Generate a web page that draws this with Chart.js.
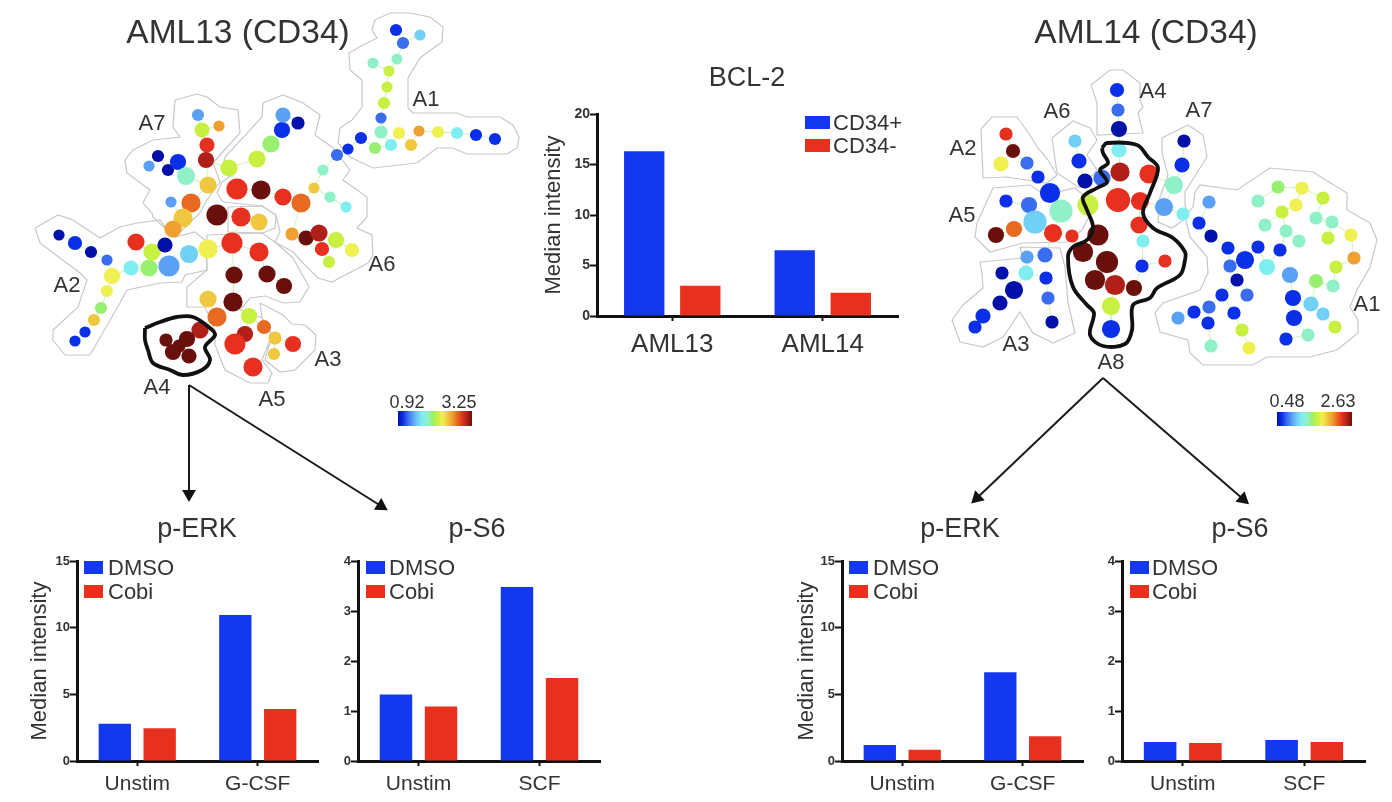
<!DOCTYPE html>
<html>
<head>
<meta charset="utf-8">
<title>AML13 / AML14 CD34</title>
<script src="https://cdn.jsdelivr.net/npm/chart.js@4/dist/chart.umd.min.js"></script>
<style>
  html, body { margin: 0; padding: 0; background: #fff; }
  #page { position: relative; width: 1392px; height: 802px; overflow: hidden; filter: blur(0.5px);
          font-family: "Liberation Sans", Arial, sans-serif; color: #333; }
  #page canvas { position: absolute; }
  .txt { position: absolute; white-space: nowrap; transform: translate(-50%, -50%); line-height: 1; }
  .left { position: absolute; white-space: nowrap; transform: translateY(-50%); line-height: 1; }
  .box { position: absolute; }
</style>
</head>
<body>
<div id="page"><canvas id="tree" width="1392" height="802"></canvas></div>
<script>
const BLUE = '#1438f0';
const RED = '#e8301f';

// bar panels
const bcl2Groups = ['AML13', 'AML14'];
const bcl2Plus = [16.3, 6.5];
const bcl2Minus = [3.0, 2.3];

const erkGroups = ['Unstim', 'G-CSF'];
const s6Groups = ['Unstim', 'SCF'];
const aml13ErkDmso = [2.8, 10.95];
const aml13ErkCobi = [2.45, 3.9];
const aml13S6Dmso = [1.33, 3.48];
const aml13S6Cobi = [1.09, 1.66];
const aml14ErkDmso = [1.2, 6.65];
const aml14ErkCobi = [0.85, 1.85];
const aml14S6Dmso = [0.38, 0.42];
const aml14S6Cobi = [0.36, 0.38];

// colour scale of the trees, low to high
const jet = ['#0010a8', '#0a2fe8', '#3a6cf0', '#5aa0f5', '#70d0f5', '#80eef0', '#90f0c8', '#98f070',
             '#c8f040', '#f0f050', '#f0c840', '#f0a030', '#e86a20', '#e83020', '#b02018', '#6a100c'];

// tree nodes: x, y, size, colour level
const aml13Nodes = [
  [198,115,5.5,3],[219,126,5,11],[202,130,7,8],[207,145,7,13],[206,160,7.5,14],[158,156,5.5,0],[149,166,5,3],
  [168,170,5.5,0],[178,162,7.5,1],[186,176,8.5,6],[208,185,8,10],[171,202,5,3],[191,203,9,12],[229,168,8,8],
  [257,159,8,8],[271,144,8,7],[282,130,7.5,1],[283,115,7,3],[298,123,6,0],[237,189,10,13],[261,190,9,15],
  [217,215,10,15],[241,217,9,13],[259,222,8,10],[183,218,9,10],[173,229,8,11],[283,197,8,13],[301,203,9,12],
  [314,188,5,10],[323,170,5,6],[337,155,5.5,2],[348,149,5,1],[361,138,5.5,1],[381,132,6,6],[375,148,5.5,7],
  [391,145,5.5,5],[399,133,5.5,9],[411,145,5.5,10],[419,131,5,11],[438,132,5.5,9],[457,133,5.5,5],[476,135,5.5,1],
  [495,139,5.5,1],[381,118,5,2],[384,103,5.5,8],[387,87,5,8],[389,71,5,8],[373,63,5,6],[397,59,5,6],[403,43,5.5,2],
  [396,30,5.5,1],[420,35,5,4],[330,197,5,6],[346,207,5,5],
  [59,235,5,0],[75,243,6.5,1],[91,252,5.5,0],[107,260,5,2],[112,276,7.5,9],[107,291,5.5,9],[101,308,5.5,7],
  [94,320,5.5,10],[85,332,5,1],[75,341,5,1],[131,268,7,5],[149,268,8,7],[152,252,8,8],[136,242,8,13],[165,245,7,0],
  [169,266,10,3],[189,254,8.5,4],[208,249,9,9],[232,243,10,13],[259,252,9,13],[234,275,8,15],[267,274,8,15],
  [233,302,9,15],[208,299,8,10],[217,317,9,12],[249,316,7.5,8],[264,327,6.5,12],[245,334,7.5,14],[235,344,10,13],
  [253,367,9,13],[275,338,6,10],[274,354,5.5,10],[284,286,7.5,15],[292,234,6,11],[306,238,7,15],[319,233,8,14],
  [322,249,6.5,13],[336,240,7.5,8],[352,250,6.5,9],[329,262,5.5,8],[293,344,7.5,13],
  [200,330,8,14],[166,340,6,15],[187,339,7.5,15],[173,352,7.5,15],[189,356,7,15],[179,346,6,15]
];
const aml14Nodes = [
  [1117,90,6.5,1],[1118,110,6,2],[1119,129,7.5,0],[1119,150,7,5],[1120,172,9,14],[1149,174,9,13],[1006,134,6,13],
  [1013,151,6.5,15],[1001,164,7,9],[1027,163,6,2],[1038,177,6,1],[1050,193,9.5,1],[1075,141,6,4],[1079,161,7,1],
  [1102,178,8,2],[1085,181,7,0],[1006,201,6,1],[1029,205,7.5,2],[1061,211,11,6],[1035,222,11,4],[1088,205,10,8],
  [1118,200,11.5,13],[1140,201,8.5,13],[1184,141,6,0],[1182,165,7,1],[1174,185,8.5,6],[1164,207,8.5,3],[1183,214,6,5],
  [1139,225,8,13],[996,235,7.5,15],[1014,229,7.5,12],[1053,233,8.5,13],[1072,236,6,13],[1098,235,10,15],[1143,241,6,5],
  [1083,252,9.5,15],[1107,262,10.5,15],[1095,280,9.5,15],[1115,285,9.5,14],[1134,288,7.5,15],[1142,266,6,1],
  [1165,261,6,13],[1111,306,8.5,8],[1111,329,8.5,1],[1027,257,6,3],[1045,255,7,2],[1026,273,7,5],[1002,273,6,0],
  [1014,290,8.5,0],[1000,303,7,0],[983,316,7,1],[975,327,6,1],[1046,278,6,1],[1048,298,6,2],[1052,322,6,0],
  [1209,202,6,3],[1199,223,6,1],[1211,236,6,0],[1228,248,6,1],[1245,260,8.5,1],[1230,266,6,2],[1237,280,6,0],
  [1258,247,6,1],[1280,250,6,1],[1267,267,7.5,5],[1290,275,7.5,3],[1316,281,6.5,7],[1333,286,6,6],[1336,267,6,8],
  [1354,258,6,11],[1299,241,6,6],[1328,238,6,8],[1351,235,6,9],[1332,222,6,6],[1316,218,6,6],[1323,198,6,8],
  [1302,188,6,9],[1296,205,6,9],[1282,212,6,8],[1278,187,6,7],[1258,201,6,6],[1265,225,6,6],[1286,231,6,6],
  [1293,298,7.5,1],[1311,304,7,4],[1323,314,6,4],[1335,327,6,8],[1294,318,7.5,1],[1308,335,6,6],[1286,339,6,1],
  [1247,295,6,2],[1222,295,6,1],[1234,313,6,1],[1242,330,6,8],[1249,348,6,9],[1209,307,6,2],[1194,312,6,1],
  [1178,318,6,3],[1208,323,6,1],[1211,346,6,6]
];

// grey region outlines
const thinOutlines = [
  // AML13
  [[375,20],[390,13],[410,13],[430,17],[443,27],[442,42],[428,52],[420,58],[408,78],[408,108],[413,113],[457,113],[467,117],[500,117],[513,125],[519,137],[517,148],[507,154],[467,154],[453,148],[437,148],[417,163],[373,168],[350,157],[338,143],[340,128],[352,120],[362,107],[362,80],[350,70],[349,53],[363,45],[377,38],[372,30]],
  [[263,103],[283,95],[303,103],[320,115],[315,135],[332,147],[350,170],[343,180],[367,197],[367,217],[357,228],[372,235],[373,255],[368,263],[332,282],[318,278],[303,263],[293,252],[275,242],[280,232],[276,215],[262,206],[223,202],[217,193],[222,182],[232,175],[222,170],[225,157],[262,117]],
  [[175,100],[197,94],[207,97],[220,107],[238,110],[240,133],[227,147],[213,163],[220,182],[207,200],[200,213],[175,237],[167,230],[153,217],[152,213],[143,203],[150,190],[127,173],[125,160],[133,150],[153,140],[180,137],[173,127]],
  [[35,228],[58,215],[73,220],[100,238],[120,227],[137,223],[160,220],[167,230],[175,237],[195,232],[205,240],[207,270],[185,275],[182,282],[160,283],[127,290],[120,303],[90,355],[65,355],[53,340],[53,330],[78,307],[87,280],[80,273],[40,243]],
  [[207,235],[262,233],[275,242],[293,258],[309,287],[300,302],[283,303],[265,296],[250,298],[240,310],[262,318],[272,335],[262,360],[272,373],[268,383],[250,383],[225,370],[215,345],[215,330],[205,307],[187,307],[187,287],[207,270],[207,250]],
  [[260,303],[283,315],[292,324],[305,325],[316,335],[315,350],[295,370],[280,372],[265,360],[272,335],[262,318]],
  [[228,207],[262,206],[276,215],[275,228],[263,233],[228,232]],
  // AML14
  [[1091,85],[1110,70],[1123,70],[1140,83],[1140,100],[1143,107],[1138,113],[1143,133],[1097,135],[1097,103]],
  [[981,129],[992,117],[1017,117],[1030,135],[1037,147],[1048,160],[1057,175],[1047,183],[1007,177],[983,178]],
  [[1052,138],[1073,121],[1090,128],[1097,140],[1087,155],[1097,170],[1080,188],[1057,173]],
  [[977,223],[993,188],[1030,185],[1045,195],[1075,188],[1095,205],[1082,230],[1067,242],[1023,243],[990,252],[975,237]],
  [[980,262],[1023,258],[1020,247],[1060,248],[1065,267],[1068,303],[1075,333],[1053,343],[1033,333],[1020,312],[1003,337],[983,347],[960,342],[952,320],[963,305],[983,288],[982,273]],
  [[1162,138],[1188,125],[1203,135],[1207,157],[1185,192],[1185,205],[1188,217],[1172,228],[1158,222],[1160,197],[1168,175],[1162,153]],
  [[1195,192],[1200,185],[1237,190],[1270,168],[1313,172],[1347,193],[1347,210],[1370,223],[1377,240],[1370,267],[1357,290],[1350,307],[1358,320],[1358,333],[1337,350],[1310,357],[1267,357],[1253,365],[1203,365],[1190,353],[1188,340],[1160,332],[1155,313],[1163,303],[1200,290],[1208,273],[1207,257],[1190,237],[1185,217],[1193,207]]
];
// black outlines of the gated regions
const thickOutlines = [
  [[145,328],[160,322],[177,317],[193,317],[210,328],[215,335],[205,347],[210,360],[202,370],[183,375],[170,370],[153,363],[148,350],[145,340]],
  [[1102,148],[1107,143],[1137,145],[1148,157],[1158,168],[1150,193],[1143,213],[1153,228],[1173,238],[1185,252],[1185,260],[1180,275],[1157,288],[1150,298],[1133,305],[1132,330],[1125,344],[1103,346],[1090,335],[1094,313],[1087,305],[1073,287],[1068,257],[1073,247],[1087,240],[1093,227],[1087,210],[1083,197],[1097,188],[1107,182],[1100,170],[1108,163],[1103,153]]
];
const arrows = [
  [[189,385],[189,494]],
  [[189,385],[381,506]],
  [[1103,378],[977,498]],
  [[1103,378],[1243,499]]
];

const treeLabels = [
  ['A1',426,99],['A7',152,123],['A2',67,285],['A4',157,387],['A5',272,399],['A3',328,359],['A6',382,264],
  ['A4',1153,91],['A6',1057,111],['A7',1199,110],['A2',963,148],['A5',962,215],['A3',1016,344],['A8',1111,362],['A1',1367,304]
];
const headings = [
  ['AML13 (CD34)',238,32,33.5],['AML14 (CD34)',1146,32,33.5],['BCL-2',747,77,27],
  ['p-ERK',197,528,27],['p-S6',477,528,27],['p-ERK',960,528,27],['p-S6',1240,528,27],
  ['0.92',407,402,18],['3.25',459,402,18],['0.48',1287,401,18],['2.63',1338,401,18]
];

const page = document.getElementById('page');

function addText(str, x, y, size) {
  const d = document.createElement('div');
  d.className = 'txt';
  d.textContent = str;
  d.style.left = x + 'px';
  d.style.top = y + 'px';
  d.style.fontSize = size + 'px';
  page.appendChild(d);
}
function addBox(x, y, w, h, background) {
  const d = document.createElement('div');
  d.className = 'box';
  d.style.cssText = `left:${x}px;top:${y}px;width:${w}px;height:${h}px;background:${background}`;
  page.appendChild(d);
}
function addLegendRow(str, color, x, y, w, textX, size) {
  addBox(x, y, w, 13, color);
  const d = document.createElement('div');
  d.className = 'left';
  d.textContent = str;
  d.style.left = textX + 'px';
  d.style.top = (y + 7) + 'px';
  d.style.fontSize = size + 'px';
  page.appendChild(d);
}

headings.forEach(t => addText(t[0], t[1], t[2], t[3]));
treeLabels.forEach(t => addText(t[0], t[1], t[2], 22));
const gradient = `linear-gradient(to right, ${jet.join(',')})`;
addBox(398, 411, 74, 15, gradient);
addBox(1277, 412, 75, 14, gradient);

// SPADE trees are spanning trees, so the links follow from the node positions
function treeLinks(nodes) {
  const pts = [];
  const inTree = [0];
  const rest = nodes.map((_, i) => i).slice(1);
  while (rest.length) {
    let best = null, bestD = Infinity;
    inTree.forEach(a => rest.forEach(b => {
      const d = Math.hypot(nodes[a][0] - nodes[b][0], nodes[a][1] - nodes[b][1]);
      if (d < bestD) { bestD = d; best = [a, b]; }
    }));
    pts.push({ x: nodes[best[0]][0], y: nodes[best[0]][1] }, { x: nodes[best[1]][0], y: nodes[best[1]][1] }, { x: NaN, y: NaN });
    inTree.push(best[1]);
    rest.splice(rest.indexOf(best[1]), 1);
  }
  return pts;
}

const toPoints = line => line.map(p => ({ x: p[0], y: p[1] }));
const closed = line => toPoints(line.concat([line[0]]));

const treeDatasets = [];
thinOutlines.forEach(line => treeDatasets.push({
  type: 'scatter', showLine: true, data: closed(line), borderColor: '#c8c8c8', borderWidth: 1.2,
  pointRadius: 0, order: 5
}));
[aml13Nodes, aml14Nodes].forEach(nodes => {
  treeDatasets.push({
    type: 'scatter', showLine: true, data: treeLinks(nodes), borderColor: '#c8f5b4', borderWidth: 1,
    pointRadius: 0, spanGaps: false, order: 4
  });
  treeDatasets.push({
    type: 'bubble', data: nodes.map(n => ({ x: n[0], y: n[1], r: n[2] + 0.6 })),
    backgroundColor: nodes.map(n => jet[n[3]]), borderWidth: 0, order: 3
  });
});
thickOutlines.forEach(line => treeDatasets.push({
  type: 'scatter', showLine: true, data: closed(line), borderColor: '#111', borderWidth: 3.8,
  tension: 0.35, pointRadius: 0, order: 2
}));
arrows.forEach(a => {
  const angle = Math.atan2(a[1][0] - a[0][0], a[0][1] - a[1][1]) * 180 / Math.PI;
  treeDatasets.push({
    type: 'scatter', showLine: true, data: toPoints(a), borderColor: '#1a1a1a', borderWidth: 2,
    pointRadius: [0, 8], pointStyle: 'triangle', pointRotation: angle, pointBackgroundColor: '#111',
    pointBorderWidth: 0, order: 1
  });
});

const tree = new Chart(document.getElementById('tree'), {
  type: 'bubble',
  data: { datasets: treeDatasets },
  options: {
    responsive: false,
    animation: false,
    events: [],
    layout: { padding: 0 },
    plugins: { legend: { display: false }, tooltip: { enabled: false } },
    scales: {
      x: { type: 'linear', display: false, min: 0, max: 1392 },
      y: { type: 'linear', display: false, min: 0, max: 802, reverse: true }
    }
  }
});
// bubbles make the chart area shrink, so pin the scales to page pixels
const area = tree.chartArea;
tree.options.scales.x.min = area.left;
tree.options.scales.x.max = area.right;
tree.options.scales.y.min = area.top;
tree.options.scales.y.max = area.bottom;
tree.update();

function barPanel(o) {
  const c = document.createElement('canvas');
  const w = o.axisW + (o.right - o.axisX) + 2;
  const h = o.bottom - o.top + 10 + o.axisH;
  c.width = w;
  c.height = h;
  c.style.left = (o.axisX - o.axisW) + 'px';
  c.style.top = (o.top - 10) + 'px';
  page.appendChild(c);
  new Chart(c, {
    type: 'bar',
    data: {
      labels: o.labels,
      datasets: [
        { label: o.names[0], data: o.a, backgroundColor: BLUE, categoryPercentage: 0.745, barPercentage: 0.72 },
        { label: o.names[1], data: o.b, backgroundColor: RED, categoryPercentage: 0.745, barPercentage: 0.72 }
      ]
    },
    options: {
      responsive: false,
      animation: false,
      events: [],
      layout: { padding: { top: 10, right: 2 } },
      plugins: { legend: { display: false }, tooltip: { enabled: false } },
      scales: {
        x: {
          grid: { offset: false, drawOnChartArea: false, tickLength: 5, tickColor: '#111', tickWidth: 2 },
          border: { color: '#111', width: 3 },
          ticks: { color: '#333', font: { size: o.catSize, family: 'Liberation Sans' }, padding: o.catPad, maxRotation: 0 },
          afterFit: s => { s.height = o.axisH; }
        },
        y: {
          min: 0, max: o.max,
          grid: { drawOnChartArea: false, tickLength: 7, tickColor: '#111', tickWidth: 2 },
          border: { color: '#111', width: 3 },
          ticks: { stepSize: o.step, color: '#333', padding: 0, font: { size: o.tickSize, weight: 'bold', family: 'Liberation Sans' } },
          title: {
            display: !!o.yTitle, text: o.yTitle, color: '#333', padding: 0,
            font: { size: 22, family: 'Liberation Sans' }
          },
          afterFit: s => { s.width = o.axisW; }
        }
      }
    }
  });
}

const small = { top: 561, bottom: 761, axisH: 38, catSize: 21, catPad: 6, tickSize: 13 };
barPanel({ axisX: 597, right: 898, top: 114, bottom: 316, axisW: 56, axisH: 46, catSize: 26, catPad: 8, tickSize: 14,
           labels: bcl2Groups, names: ['CD34+', 'CD34-'], a: bcl2Plus, b: bcl2Minus, max: 20, step: 5, yTitle: 'Median intensity' });
barPanel({ ...small, axisX: 77, right: 318, axisW: 50, labels: erkGroups, names: ['DMSO', 'Cobi'],
           a: aml13ErkDmso, b: aml13ErkCobi, max: 15, step: 5, yTitle: 'Median intensity' });
barPanel({ ...small, axisX: 358, right: 600, axisW: 30, labels: s6Groups, names: ['DMSO', 'Cobi'],
           a: aml13S6Dmso, b: aml13S6Cobi, max: 4, step: 1, yTitle: '' });
barPanel({ ...small, axisX: 842, right: 1083, axisW: 48, labels: erkGroups, names: ['DMSO', 'Cobi'],
           a: aml14ErkDmso, b: aml14ErkCobi, max: 15, step: 5, yTitle: 'Median intensity' });
barPanel({ ...small, axisX: 1122, right: 1365, axisW: 30, labels: s6Groups, names: ['DMSO', 'Cobi'],
           a: aml14S6Dmso, b: aml14S6Cobi, max: 4, step: 1, yTitle: '' });

addLegendRow('CD34+', BLUE, 805, 116, 25, 833, 22);
addLegendRow('CD34-', RED, 805, 139, 25, 833, 22);
[[84, 108], [366, 389], [849, 873], [1130, 1152]].forEach(p => {
  addLegendRow('DMSO', BLUE, p[0], 561, 19, p[1], 22);
  addLegendRow('Cobi', RED, p[0], 585, 19, p[1], 22);
});
</script>
</body>
</html>
